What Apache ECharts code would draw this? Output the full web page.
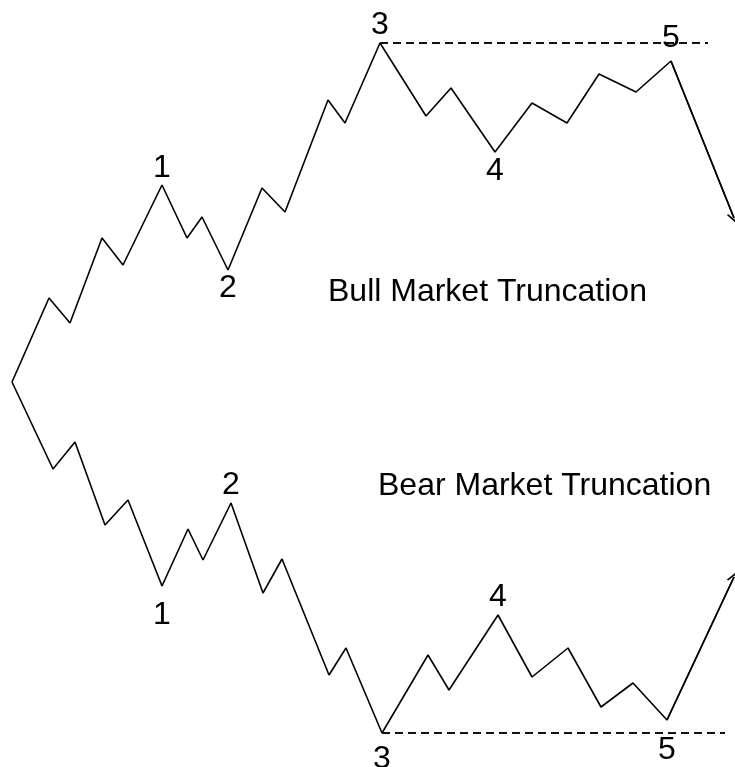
<!DOCTYPE html>
<html>
<head>
<meta charset="utf-8">
<script src="https://cdn.jsdelivr.net/npm/echarts@6/dist/echarts.min.js"></script>
<style>
html, body { margin: 0; padding: 0; background: #fff; }
#main { width: 735px; height: 767px; }
</style>
</head>
<body>
<div id="main"></div>
<script>
// wave points (x, y with y growing downwards)
var bullWave = [[12, 382], [49, 298], [70, 323], [102, 238], [123, 265], [162, 185], [187, 238], [202, 217], [228, 270], [262, 188], [285, 212], [328, 100], [345, 123], [380, 43], [426, 116], [451, 88], [495, 152], [532, 103], [567, 123], [599, 74], [636, 92], [671, 61], [734, 218]];
var bearWave = [[12, 382], [53, 469], [75, 442], [105, 525], [128, 500], [162, 586], [188, 529], [203, 560], [231, 503], [263, 593], [282, 559], [329, 675], [346, 648], [382, 733], [428, 655], [449, 690], [498, 615], [532, 677], [568, 648], [601, 707], [633, 683], [667, 720], [734, 577]];

// which point carries which wave number
var waveIndex = [5, 8, 13, 16, 21];
var waveNames = ['1', '2', '3', '4', '5'];

// where the dashed level lines stop
var bullLevelEnd = 708;
var bearLevelEnd = 725;

var titles = ['Bull Market Truncation', 'Bear Market Truncation'];

var font = "'Liberation Sans', Arial, sans-serif";
var bullLabelStyle = [['top', 1], ['bottom', 2], ['top', 2], ['bottom', 3], ['top', 7]];
var bearLabelStyle = [['bottom', 13], ['top', 2], ['bottom', 10], ['top', 2], ['bottom', 14]];

function buildData(points, styles) {
	return points.map(function (p, i) {
		var k = waveIndex.indexOf(i);
		if (k < 0) return p;
		return {
			value: p,
			label: {
				show: true,
				formatter: waveNames[k],
				position: styles[k][0],
				distance: styles[k][1],
				backgroundColor: '#fff'
			}
		};
	});
}

function waveSeries(points, styles, levelEnd) {
	var top = points[waveIndex[2]];
	var n = points.length;
	return {
		type: 'line',
		data: buildData(points, styles),
		symbol: 'circle',
		symbolSize: 0,
		showSymbol: true,
		silent: true,
		lineStyle: { color: '#000', width: 1.6 },
		itemStyle: { color: '#000' },
		label: { fontFamily: font, fontSize: 32, color: '#000' },
		markLine: {
			silent: true,
			animation: false,
			label: { show: false },
			data: [
				[{ coord: top, symbol: 'none', lineStyle: { type: [8, 5], color: '#111', width: 2 } },
				 { coord: [levelEnd, top[1]], symbol: 'none' }],
				[{ coord: points[n - 2], symbol: 'none', lineStyle: { type: 'solid', color: '#000', width: 1.6 } },
				 { coord: points[n - 1], symbol: 'path://M0,10 L5,0 L10,10 L8.4,10 L5,3.2 L1.6,10 Z', symbolSize: [11, 11] }]
			]
		}
	};
}

var myChart = echarts.init(document.getElementById('main'));
var option = {
	backgroundColor: '#fff',
	animation: false,
	grid: { left: 0, right: 0, top: 0, bottom: 0 },
	xAxis: { type: 'value', min: 0, max: 735, show: false },
	yAxis: { type: 'value', min: 0, max: 767, inverse: true, show: false },
	graphic: [{
		type: 'text',
		x: 328,
		y: 292,
		style: { text: titles[0], font: '32px ' + font, fill: '#000', textVerticalAlign: 'middle' }
	}, {
		type: 'text',
		x: 378,
		y: 486,
		style: { text: titles[1], font: '32px ' + font, fill: '#000', textVerticalAlign: 'middle' }
	}],
	series: [
		waveSeries(bullWave, bullLabelStyle, bullLevelEnd),
		waveSeries(bearWave, bearLabelStyle, bearLevelEnd)
	]
};
myChart.setOption(option);

window.onresize = function () {
	myChart.resize();
};
</script>
</body>
</html>
